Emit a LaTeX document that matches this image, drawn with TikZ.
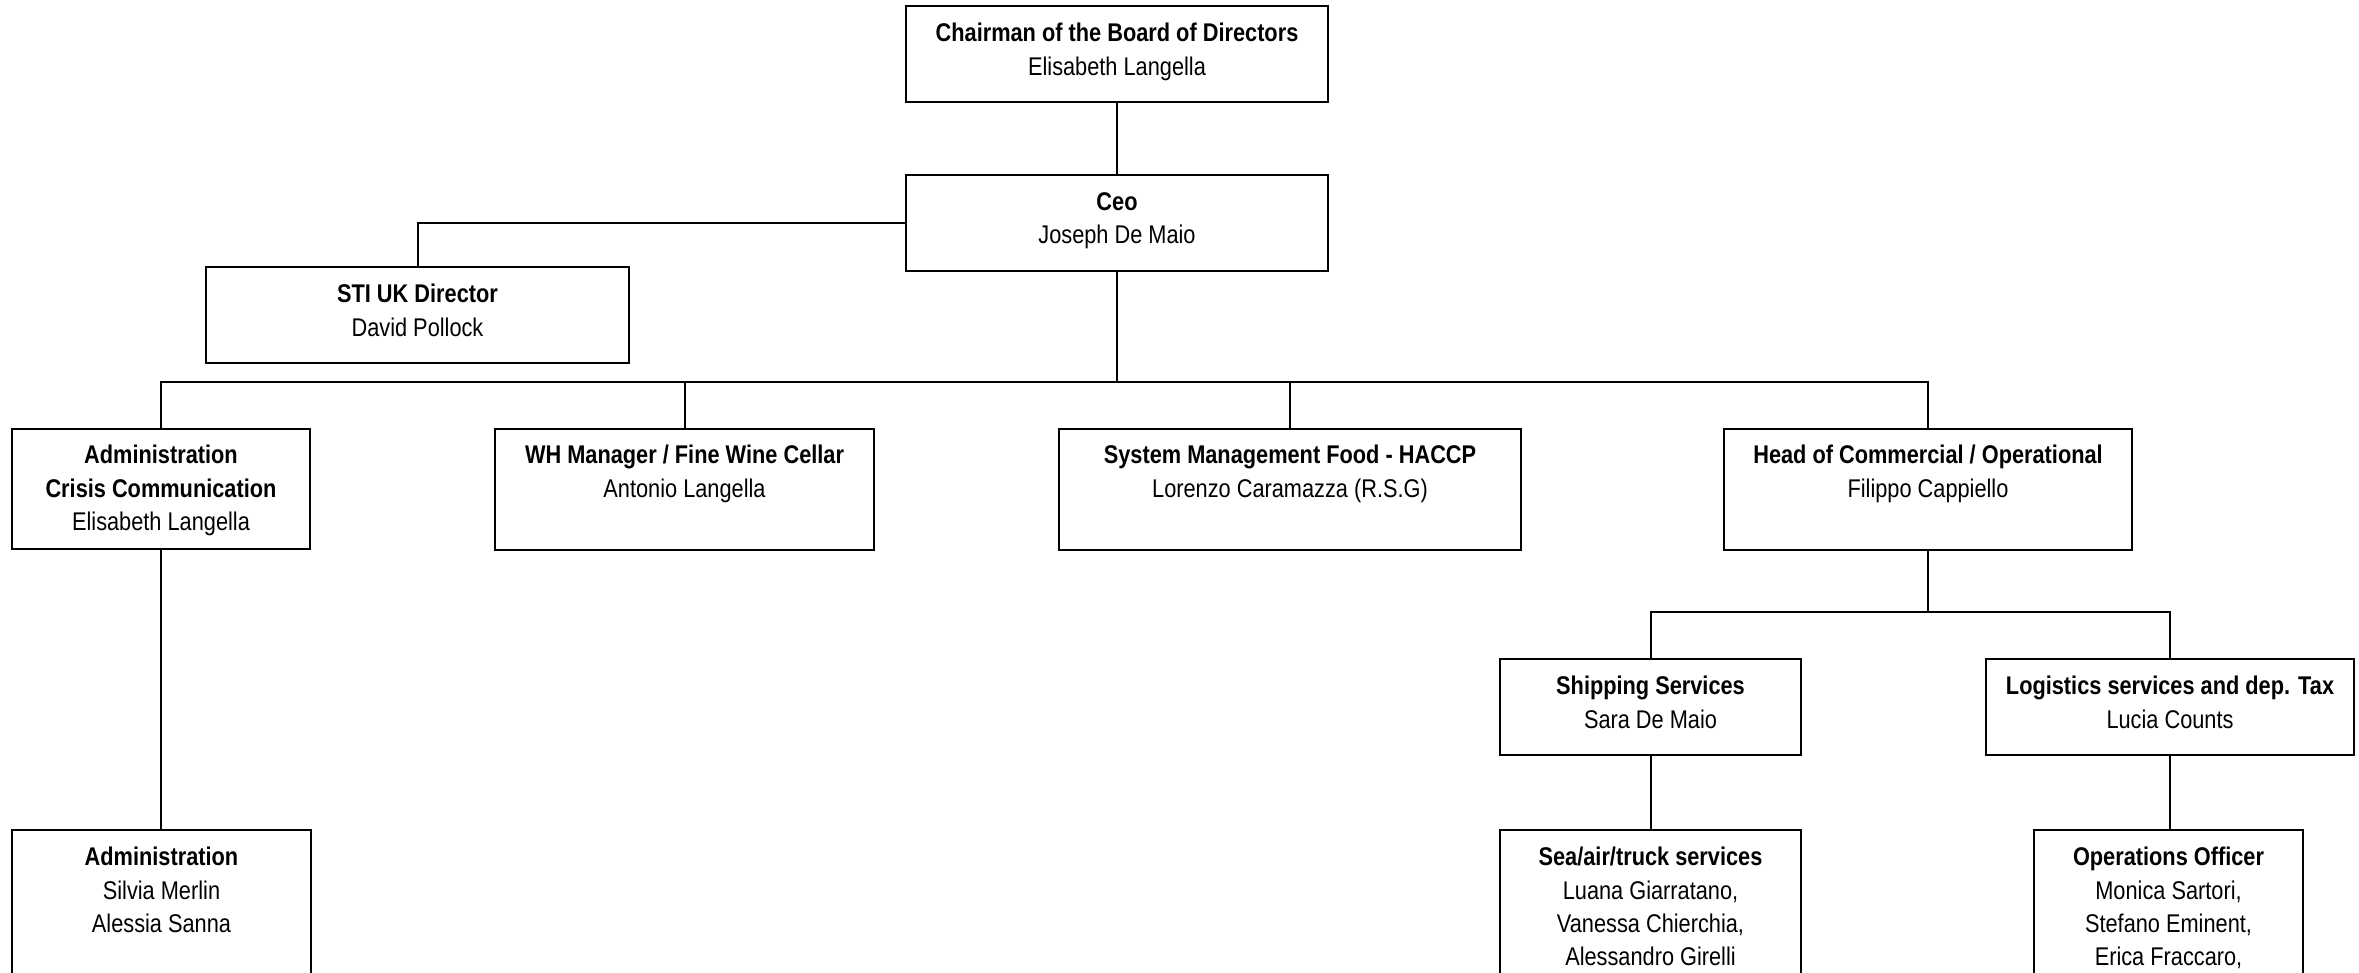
\documentclass[tikz,border=0pt]{standalone}
\usepackage{fontspec}
\setmainfont{Liberation Sans}[FakeStretch=0.85]
\usetikzlibrary{fit}
\tikzset{
  x=0.5pt, y=-0.5pt,
  box/.style={draw=black, line width=1pt, inner sep=0pt, rectangle},
  txt/.style={anchor=north, align=center, inner sep=0pt,
    font=\fontsize{12.8}{16.6}\selectfont,
    execute at begin node={\rule{0pt}{10pt}}},
  conn/.style={draw=black, line width=1pt}
}
\begin{document}
\begin{tikzpicture}
\clip (0,0) rectangle (2359,973);
\fill[white] (0,0) rectangle (2359,973);
% boxes
\node[box, fit={(906,6)(1328,102)}] (chair) {};
\node[box, fit={(906,175)(1328,271)}] (ceo) {};
\node[box, fit={(206,267)(629,363)}] (sti) {};
\node[box, fit={(12,429)(310,549)}] (admin) {};
\node[box, fit={(495,429)(874,550)}] (wh) {};
\node[box, fit={(1059,429)(1521,550)}] (sys) {};
\node[box, fit={(1724,429)(2132,550)}] (head) {};
\node[box, fit={(1500,659)(1801,755)}] (ship) {};
\node[box, fit={(1986,659)(2354,755)}] (log) {};
\node[box, fit={(1500,830)(1801,1010)}] (sea) {};
\node[box, fit={(2034,830)(2303,1010)}] (ops) {};
\node[box, fit={(12,830)(311,1010)}] (admintwo) {};
% texts
\node[txt] (chairT) at ([yshift=-9pt]chair.north) {\textbf{Chairman of the Board of Directors}\\Elisabeth Langella};
\node[txt] (ceoT) at ([yshift=-9pt]ceo.north) {\textbf{Ceo}\\Joseph De Maio};
\node[txt] (stiT) at ([yshift=-9pt]sti.north) {\textbf{STI UK Director}\\David Pollock};
\node[txt] (adminT) at ([yshift=-8.5pt]admin.north) {\textbf{Administration}\\\textbf{Crisis Communication}\\Elisabeth Langella};
\node[txt] (whT) at ([yshift=-8.5pt]wh.north) {\textbf{WH Manager / Fine Wine Cellar}\\Antonio Langella};
\node[txt] (sysT) at ([yshift=-8.5pt]sys.north) {\textbf{System Management Food - HACCP}\\Lorenzo Caramazza (R.S.G)};
\node[txt] (headT) at ([yshift=-8.5pt]head.north) {\textbf{Head of Commercial / Operational}\\Filippo Cappiello};
\node[txt] (shipT) at ([yshift=-9pt]ship.north) {\textbf{Shipping Services}\\Sara De Maio};
\node[txt] (logT) at ([yshift=-9pt]log.north) {\textbf{Logistics services and dep. Tax}\\Lucia Counts};
\node[txt] (seaT) at ([yshift=-9pt]sea.north) {\textbf{Sea/air/truck services}\\Luana Giarratano,\\Vanessa Chierchia,\\Alessandro Girelli};
\node[txt] (opsT) at ([yshift=-9pt]ops.north) {\textbf{Operations Officer}\\Monica Sartori,\\Stefano Eminent,\\Erica Fraccaro,};
\node[txt] (admintwoT) at ([yshift=-9pt]admintwo.north) {\textbf{Administration}\\Silvia Merlin\\Alessia Sanna};
% bus coordinates
\coordinate (busA) at (0,382);
\coordinate (busB) at (0,612);
% connectors
\draw[conn] (chair.south) -- (ceo.north);
\draw[conn] (ceo.west) -| (sti.north);
\draw[conn] (ceo.south) -- (ceo.south |- busA);
\draw[conn] (admin.north) -- (admin.north |- busA) -- (head.north |- busA) -- (head.north);
\draw[conn] (wh.north) -- (wh.north |- busA);
\draw[conn] (sys.north) -- (sys.north |- busA);
\draw[conn] (head.south) -- (head.south |- busB);
\draw[conn] (ship.north) -- (ship.north |- busB) -- (log.north |- busB) -- (log.north);
\draw[conn] (ship.south) -- (sea.north);
\draw[conn] (log.south) -- (log.south |- ops.north);
\draw[conn] (admin.south) -- (admin.south |- admintwo.north);
\end{tikzpicture}
\end{document}
